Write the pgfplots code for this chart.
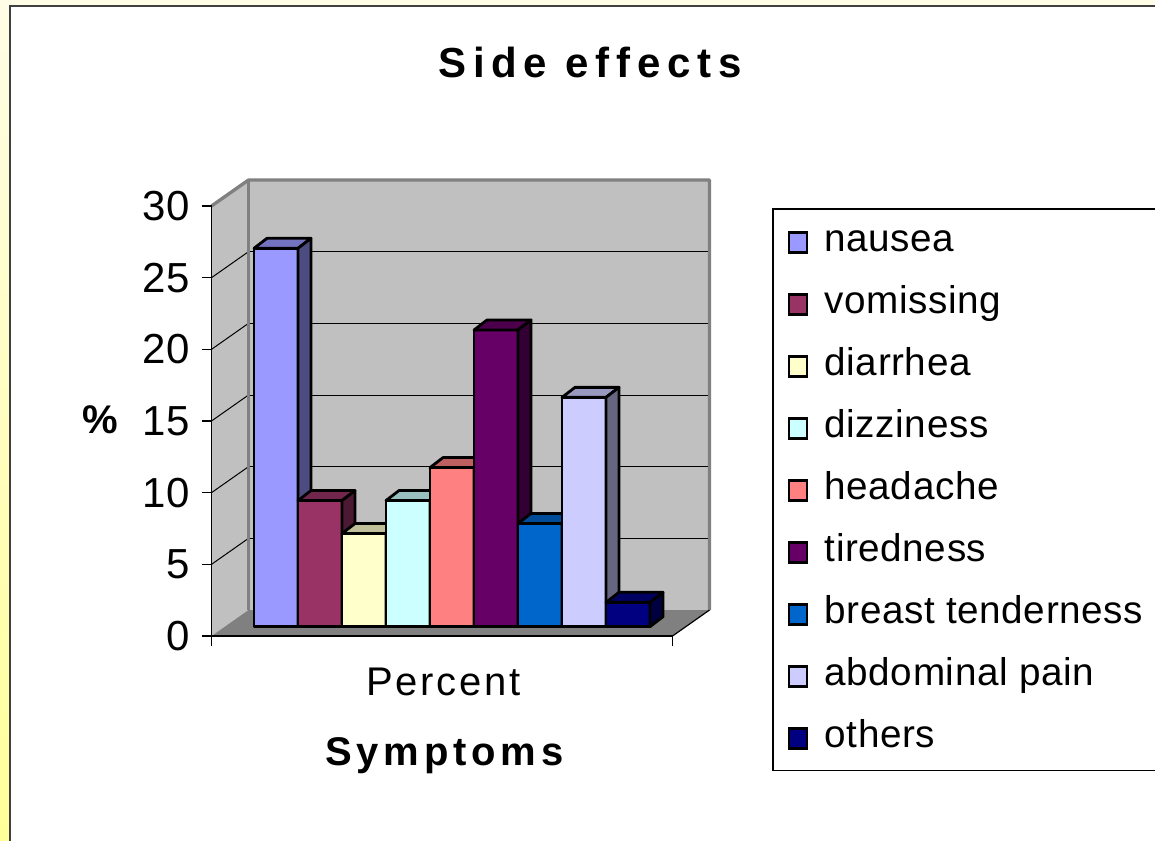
\documentclass[border=0pt]{standalone}
\usepackage{pgfplots}
\pgfplotsset{compat=1.18}
\usepackage{pgfplotstable}
\usepackage{fontspec}
\setmainfont{Liberation Sans}
\newfontfamily\titlefont[LetterSpace=16]{Liberation Sans}
\newfontfamily\pctfont[LetterSpace=7]{Liberation Sans}
\newfontfamily\symfont[LetterSpace=12]{Liberation Sans}
\newfontfamily\legfont[LetterSpace=1.5]{Liberation Sans}

\definecolor{c1}{HTML}{9999FF}
\definecolor{c2}{HTML}{993366}
\definecolor{c3}{HTML}{FFFFCC}
\definecolor{c4}{HTML}{CCFFFF}
\definecolor{c5}{HTML}{FF8080}
\definecolor{c6}{HTML}{660066}
\definecolor{c7}{HTML}{0066CC}
\definecolor{c8}{HTML}{CCCCFF}
\definecolor{c9}{HTML}{000080}
\definecolor{wallgray}{HTML}{C0C0C0}
\definecolor{floorgray}{HTML}{808080}
\definecolor{edgegray}{HTML}{808080}
\definecolor{yelltop}{HTML}{FFFDE6}
\definecolor{yellbot}{HTML}{FFFF99}

% face templates of a 3-D bar (u: across, w: up to value, d: depth)
\pgfplotstableread{
u w d
0 0 0
1 0 0
1 1 0
0 1 0
}\frontface
\pgfplotstableread{
u w d
0 1 0
1 1 0
1 1 1
0 1 1
}\topface
\pgfplotstableread{
u w d
1 0 0
1 0 1
1 1 1
1 1 0
}\sideface

% #1 = position index, #2 = value (%), #3 = colour
\newcommand{\threedbar}[3]{%
  \addplot[forget plot, fill=#3, draw=black, line width=2.1pt, line join=round]
    table[x expr={42.5+44*#1+44*\thisrow{u}+13*\thisrow{d}},
          y expr={0.65+#2*\thisrow{w}+0.698*\thisrow{d}}] {\frontface} -- cycle;
  \addplot[forget plot, fill=#3!75!black, draw=black, line width=2.1pt, line join=round]
    table[x expr={42.5+44*#1+44*\thisrow{u}+13*\thisrow{d}},
          y expr={0.65+#2*\thisrow{w}+0.698*\thisrow{d}}] {\topface} -- cycle;
  \addplot[forget plot, fill=#3!50!black, draw=black, line width=2.1pt, line join=round]
    table[x expr={42.5+44*#1+44*\thisrow{u}+13*\thisrow{d}},
          y expr={0.65+#2*\thisrow{w}+0.698*\thisrow{d}}] {\sideface} -- cycle;
}

\begin{document}
\begin{tikzpicture}
\useasboundingbox (0,0) rectangle (866.25pt,-630pt);
\begin{scope}[x=0.75pt,y=-0.75pt]
  \shade[top color=yelltop, bottom color=yellbot] (0,0) rectangle (1155,840);
  \fill[white] (10,6) rectangle (1170,850);
  \draw[black!75, line width=1.5pt] (10,850) -- (10,6) -- (1170,6);
  \node[anchor=base, inner sep=0pt, font=\titlefont\bfseries\fontsize{31.5}{36}\selectfont] at (590,77) {Side effects};
\end{scope}
\begin{axis}[
  at={(158.625pt,-477pt)}, anchor=origin,
  x=0.75pt, y=10.75pt,
  xmin=0, xmax=461, ymin=0, ymax=30,
  axis x line*=bottom, axis y line*=left,
  axis line style={black, line width=0.9pt},
  clip=false, axis on top,
  xtick={0,461}, xticklabels={,},
  ytick={0,5,...,30},
  tick align=outside, major tick length=7.5pt,
  tick style={black, line width=0.9pt},
  yticklabel style={font=\fontsize{31.5}{36}\selectfont, xshift=-5.5pt},
  /pgf/number format/assume math mode=true,
  legend cell align=left,
  legend style={at={(1.218,0.993)}, anchor=north west, draw=black, line width=0.9pt,
    fill=white, inner xsep=11pt, inner ysep=10pt, outer sep=0pt,
    font=\legfont\fontsize{29}{34}\selectfont,
    nodes={inner sep=0pt, text height=22pt, text depth=7pt, anchor=base west},
    row sep=17.5pt, column sep=12.5pt},
  legend image code/.code={\draw[#1, draw=black, line width=1.8pt] (0pt,-0.6pt) rectangle (13.5pt,14.4pt);},
]
% walls and floor
\addplot[forget plot, fill=wallgray, draw=none] coordinates {(37,1.814) (498,1.814) (498,31.814) (37,31.814)} -- cycle;
\addplot[forget plot, fill=wallgray, draw=none] coordinates {(0,0) (37,1.814) (37,31.814) (0,30)} -- cycle;
\addplot[forget plot, fill=floorgray, draw=none] coordinates {(0,0) (461,0) (498,1.814) (37,1.814)} -- cycle;
% gridlines
\pgfplotsinvokeforeach{5,10,15,20,25}{
  \addplot[forget plot, black, line width=0.75pt] coordinates {(37,#1+1.814) (498,#1+1.814)};
  \addplot[forget plot, black, line width=0.75pt] coordinates {(0,#1) (37,#1+1.814)};
}
% wall edges
\addplot[forget plot, edgegray, line width=2.5pt, line join=round] coordinates {(0,30) (37,31.814) (498,31.814) (498,1.814)};
\addplot[forget plot, edgegray, line width=2.5pt] coordinates {(37,31.814) (37,1.814)};
\addplot[forget plot, black, line width=0.9pt] coordinates {(461,0) (498,1.814)};

% bars: index, value, colour
\threedbar{0}{26.4}{c1}
\threedbar{1}{8.8}{c2}
\threedbar{2}{6.5}{c3}
\threedbar{3}{8.8}{c4}
\threedbar{4}{11.1}{c5}
\threedbar{5}{20.7}{c6}
\threedbar{6}{7.2}{c7}
\threedbar{7}{16.0}{c8}
\threedbar{8}{1.7}{c9}

\addlegendimage{fill=c1}\addlegendentry{nausea}
\addlegendimage{fill=c2}\addlegendentry{vomissing}
\addlegendimage{fill=c3}\addlegendentry{diarrhea}
\addlegendimage{fill=c4}\addlegendentry{dizziness}
\addlegendimage{fill=c5}\addlegendentry{headache}
\addlegendimage{fill=c6}\addlegendentry{tiredness}
\addlegendimage{fill=c7}\addlegendentry{breast tenderness}
\addlegendimage{fill=c8}\addlegendentry{abdominal pain}
\addlegendimage{fill=c9}\addlegendentry{others}

\node[anchor=base, inner sep=0pt, font=\pctfont\fontsize{30}{36}\selectfont] at (axis cs:232,-4.116) {Percent};
\node[anchor=base, inner sep=0pt, font=\symfont\bfseries\fontsize{30}{36}\selectfont] at (axis cs:233,-9.0) {Symptoms};
\node[anchor=base, inner sep=0pt, font=\bfseries\fontsize{30}{36}\selectfont] at (axis cs:-111.5,14.16) {\%};
\end{axis}
\end{tikzpicture}
\end{document}
